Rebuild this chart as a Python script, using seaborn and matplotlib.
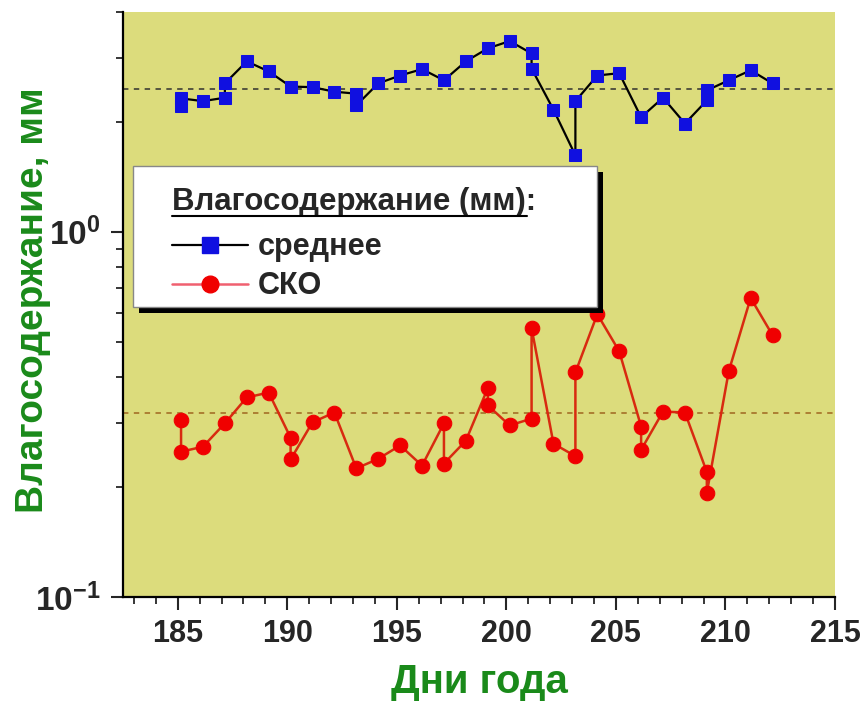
import numpy as np
import pandas as pd
import matplotlib
matplotlib.use("Agg")
import matplotlib.pyplot as plt
import seaborn as sns
from matplotlib.ticker import LogLocator, FixedLocator, MultipleLocator, NullFormatter, FixedFormatter
from matplotlib.lines import Line2D
from matplotlib.patches import Rectangle
from matplotlib.transforms import IdentityTransform

# ---- data ----
mean_days = [185, 185, 186, 187, 187, 188, 189, 190, 191, 192, 193, 193, 194, 195, 196,
             197, 198, 199, 200, 201, 201, 202, 203, 203, 204, 205, 206, 207, 208, 209,
             209, 210, 211, 212]
mean_vals = [2.21, 2.32, 2.28, 2.33, 2.55, 2.93, 2.75, 2.50, 2.49, 2.42, 2.39, 2.22, 2.55,
             2.68, 2.79, 2.60, 2.93, 3.18, 3.33, 3.08, 2.80, 2.16, 1.62, 2.28, 2.68, 2.72,
             2.06, 2.33, 1.98, 2.29, 2.44, 2.60, 2.77, 2.55]

sko_days = [185, 185, 186, 187, 188, 189, 190, 190, 191, 192, 193, 194, 195, 196, 197, 197,
            198, 199, 199, 200, 201, 201, 202, 203, 203, 204, 205, 206, 206, 207, 208, 209,
            209, 210, 211, 212]
sko_vals = [0.305, 0.250, 0.258, 0.299, 0.352, 0.363, 0.273, 0.238, 0.301, 0.320, 0.225,
            0.239, 0.260, 0.229, 0.299, 0.232, 0.268, 0.373, 0.335, 0.295, 0.308, 0.545,
            0.263, 0.243, 0.412, 0.595, 0.471, 0.293, 0.253, 0.322, 0.320, 0.220, 0.193,
            0.415, 0.659, 0.521]

mean_level = 2.46
sko_level = 0.320

day_offset = 0.15
x_ticks = [185, 190, 195, 200, 205, 210, 215]
y_ticks = [0.1, 1.0]
y_tick_labels = [r"$10^{-1}$", r"$10^{0}$"]

mean_df = pd.DataFrame({"day": np.array(mean_days) + day_offset, "val": mean_vals})
sko_df = pd.DataFrame({"day": np.array(sko_days) + day_offset, "val": sko_vals})

# ---- style ----
sns.set_style("ticks")
plt.rcParams["font.family"] = ["Liberation Sans", "DejaVu Sans"]
plt.rcParams["font.weight"] = "bold"
plt.rcParams["mathtext.fontset"] = "custom"
plt.rcParams["mathtext.rm"] = "Liberation Sans:bold"
plt.rcParams["mathtext.bf"] = "Liberation Sans:bold"
plt.rcParams["mathtext.it"] = "Liberation Sans:bold"
plt.rcParams["mathtext.default"] = "rm"

W, H = 867, 702
fig = plt.figure(figsize=(W / 100, H / 100), dpi=100)
ax = fig.add_axes([123 / W, 105 / H, (835 - 123) / W, (597 - 12) / H])
ax.set_facecolor("#dcdc7c")

ax.axhline(mean_level, color="#4a4a3a", ls=(0, (3, 3)), lw=1.3, zorder=1)
ax.axhline(sko_level, color="#a8782e", ls=(0, (3, 3)), lw=1.3, zorder=1)

sns.lineplot(data=mean_df, x="day", y="val", sort=False, estimator=None, ax=ax,
             color="black", lw=1.6, marker="s", markersize=9,
             markerfacecolor="#1010e0", markeredgecolor="#1010e0", zorder=3)
sns.lineplot(data=sko_df, x="day", y="val", sort=False, estimator=None, ax=ax,
             color="#d82a10", lw=1.8, marker="o", markersize=10.5,
             markerfacecolor="#f00000", markeredgecolor="#f00000", zorder=3)

ax.set_yscale("log")
ax.set_ylim(0.1, 4.0)
ax.set_xlim(182.5, 215)

ax.xaxis.set_major_locator(FixedLocator(x_ticks))
ax.xaxis.set_minor_locator(MultipleLocator(1))
ax.yaxis.set_major_locator(FixedLocator(y_ticks))
ax.yaxis.set_major_formatter(FixedFormatter(y_tick_labels))
ax.yaxis.set_minor_locator(LogLocator(base=10, subs=np.arange(2, 10)))
ax.yaxis.set_minor_formatter(NullFormatter())

for s in ["top", "right"]:
    ax.spines[s].set_visible(False)
for s in ["left", "bottom"]:
    ax.spines[s].set_linewidth(1.6)
    ax.spines[s].set_color("black")

ax.tick_params(axis="both", which="major", direction="out", length=9, width=1.5,
               labelsize=22, pad=7)
ax.tick_params(axis="y", which="major", labelsize=24)
ax.tick_params(axis="both", which="minor", direction="out", length=5, width=1.3)
for lab in ax.get_xticklabels() + ax.get_yticklabels():
    lab.set_fontweight("bold")

ax.set_xlabel("Дни года", fontsize=29, color="#1a8a1a", fontweight="bold", labelpad=10)
ax.set_ylabel("")
fig.text(33 / W, 1 - 300 / H, "Влагосодержание, мм", rotation=90, ha="center",
         va="center", fontsize=28, color="#1a8a1a", fontweight="bold")

# ---- legend box (frame + shadow) ----
to_ax = lambda px, py: ((px - 123) / 712, (597 - py) / 585)
bx0, by0 = to_ax(133, 307)
bx1, by1 = to_ax(597, 166)
sx, sy = 6 / 712, 6 / 585
ax.add_patch(Rectangle((bx0 + sx, by0 - sy), bx1 - bx0, by1 - by0, transform=ax.transAxes,
                       facecolor="black", edgecolor="none", zorder=5))
ax.add_patch(Rectangle((bx0, by0), bx1 - bx0, by1 - by0, transform=ax.transAxes,
                       facecolor="white", edgecolor="#888888", lw=1.0, zorder=5.5))

handles = [Line2D([], [], color="black", lw=1.6, marker="s", markersize=11,
                  markerfacecolor="#1010e0", markeredgecolor="#1010e0", label="среднее"),
           Line2D([], [], color="#f06070", lw=1.8, marker="o", markersize=12,
                  markerfacecolor="#f00000", markeredgecolor="#f00000", label="СКО")]
leg = ax.legend(handles=handles, loc="upper left", bbox_to_anchor=to_ax(172, 187),
                title="Влагосодержание (мм):", alignment="left",
                title_fontproperties={"size": 22.5, "weight": "bold"},
                frameon=False, prop={"size": 22, "weight": "bold"},
                handlelength=2.5, handletextpad=0.3, borderpad=0.0,
                labelspacing=0.3, borderaxespad=0)
leg.set_zorder(6)
leg._legend_box.sep = 11
for t in leg.get_texts():
    t.set_fontweight("bold")

fig.canvas.draw()
tb = leg.get_title().get_window_extent()
ax.add_line(Line2D([tb.x0, tb.x1 - 9], [tb.y0 + 1, tb.y0 + 1], transform=IdentityTransform(),
                   color="black", lw=1.5, zorder=7))

fig.savefig("out.png", dpi=100, facecolor="white")
